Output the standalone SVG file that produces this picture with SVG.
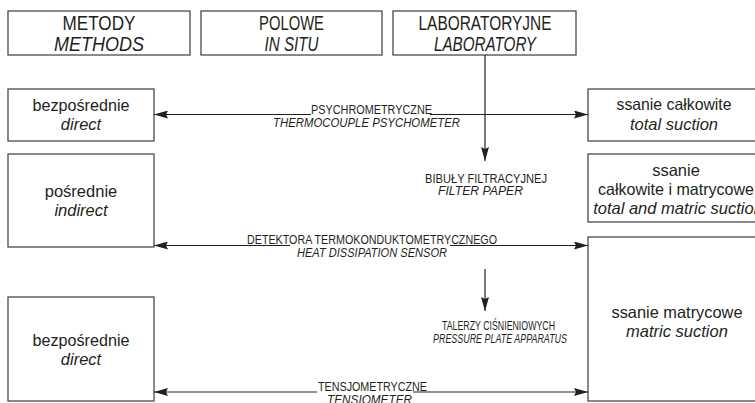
<svg xmlns="http://www.w3.org/2000/svg" width="755" height="403" viewBox="0 0 755 403">
<style>
.box{fill:#fff;stroke:#4a4a4a;stroke-width:1.3}
.t{font-family:"Liberation Sans",Arial,sans-serif;fill:#231f20;text-anchor:middle}
.h{font-size:20px}
.n{font-size:16.5px}
.s{font-size:12.5px}
.i{font-style:italic}
.ln{stroke:#231f20;stroke-width:1.2;fill:none}
</style>
<defs>
<marker id="ah" markerUnits="userSpaceOnUse" markerWidth="14" markerHeight="8" refX="14" refY="4" orient="auto-start-reverse">
<path d="M0,0 L14,4 L0,8 L2,4 Z" fill="#231f20"/>
</marker>
</defs>
<rect width="755" height="403" fill="#fff"/>

<g id="metody">
<rect class="box" x="8" y="11" width="182" height="44"/>
<text class="t h" x="99" y="30" textLength="73" lengthAdjust="spacingAndGlyphs">METODY</text>
<text class="t h i" x="99" y="51" textLength="90" lengthAdjust="spacingAndGlyphs">METHODS</text>
</g>
<g id="polowe">
<rect class="box" x="201" y="11" width="181" height="44"/>
<text class="t h" x="291.5" y="30" textLength="65" lengthAdjust="spacingAndGlyphs">POLOWE</text>
<text class="t h i" x="291.5" y="51" textLength="54" lengthAdjust="spacingAndGlyphs">IN SITU</text>
</g>
<g id="laboratoryjne">
<rect class="box" x="393" y="11" width="183" height="44"/>
<text class="t h" x="485" y="30" textLength="133" lengthAdjust="spacingAndGlyphs">LABORATORYJNE</text>
<text class="t h i" x="485" y="51" textLength="102" lengthAdjust="spacingAndGlyphs">LABORATORY</text>
</g>

<g id="bezposrednie1">
<rect class="box" x="8" y="89" width="146" height="52"/>
<text class="t n" x="81" y="111" textLength="97" lengthAdjust="spacingAndGlyphs">bezpośrednie</text>
<text class="t n i" x="81" y="130">direct</text>
</g>
<g id="posrednie">
<rect class="box" x="8" y="154" width="146" height="93"/>
<text class="t n" x="81" y="197">pośrednie</text>
<text class="t n i" x="81" y="216">indirect</text>
</g>
<g id="bezposrednie2">
<rect class="box" x="8" y="297" width="146" height="104"/>
<text class="t n" x="81" y="346" textLength="97" lengthAdjust="spacingAndGlyphs">bezpośrednie</text>
<text class="t n i" x="81" y="365">direct</text>
</g>

<g id="total">
<rect class="box" x="588" y="89" width="177" height="52"/>
<text class="t n" x="674" y="110" textLength="115" lengthAdjust="spacingAndGlyphs">ssanie całkowite</text>
<text class="t n i" x="674" y="130">total suction</text>
</g>
<g id="totalmatric">
<rect class="box" x="588" y="154" width="177" height="68"/>
<text class="t n" x="676" y="176">ssanie</text>
<text class="t n" x="676" y="195" textLength="156" lengthAdjust="spacingAndGlyphs">całkowite i matrycowe</text>
<text class="t n i" x="678" y="214">total and matric suction</text>
</g>
<g id="matric">
<rect class="box" x="588" y="237" width="177" height="164"/>
<text class="t n" x="677" y="318" textLength="131" lengthAdjust="spacingAndGlyphs">ssanie matrycowe</text>
<text class="t n i" x="677" y="337">matric suction</text>
</g>

<g id="connectors">
<line class="ln" x1="485" y1="55" x2="485" y2="161" marker-end="url(#ah)"/>
<line class="ln" x1="485" y1="269" x2="485" y2="311" marker-end="url(#ah)"/>
<line class="ln" x1="311" y1="114.5" x2="154" y2="114.5" marker-end="url(#ah)"/>
<line class="ln" x1="430" y1="114.5" x2="588" y2="114.5" marker-end="url(#ah)"/>
<line class="ln" x1="290" y1="245.5" x2="154" y2="245.5" marker-end="url(#ah)"/>
<line class="ln" x1="450" y1="245.5" x2="588" y2="245.5" marker-end="url(#ah)"/>
<line class="ln" x1="317" y1="392" x2="154" y2="392" marker-end="url(#ah)"/>
<line class="ln" x1="413" y1="392" x2="588" y2="392" marker-end="url(#ah)"/>
</g>

<g id="labels">
<text class="t s" x="371.5" y="114" textLength="121" lengthAdjust="spacingAndGlyphs">PSYCHROMETRYCZNE</text>
<text class="t s i" x="366.5" y="126.5" textLength="187" lengthAdjust="spacingAndGlyphs">THERMOCOUPLE PSYCHOMETER</text>
<text class="t s" x="486" y="182.5" textLength="122" lengthAdjust="spacingAndGlyphs">BIBUŁY FILTRACYJNEJ</text>
<text class="t s i" x="480.5" y="195" textLength="85" lengthAdjust="spacingAndGlyphs">FILTER PAPER</text>
<text class="t s" x="372" y="244" textLength="250" lengthAdjust="spacingAndGlyphs">DETEKTORA TERMOKONDUKTOMETRYCZNEGO</text>
<text class="t s i" x="372" y="257" textLength="150" lengthAdjust="spacingAndGlyphs">HEAT DISSIPATION SENSOR</text>
<text class="t s" x="498.5" y="330" textLength="113" lengthAdjust="spacingAndGlyphs">TALERZY CIŚNIENIOWYCH</text>
<text class="t s i" x="500" y="343" textLength="134" lengthAdjust="spacingAndGlyphs">PRESSURE PLATE APPARATUS</text>
<text class="t s" x="372.5" y="391" textLength="109" lengthAdjust="spacingAndGlyphs">TENSJOMETRYCZNE</text>
<text class="t s i" x="369.5" y="403.5" textLength="85" lengthAdjust="spacingAndGlyphs">TENSIOMETER</text>
</g>
</svg>
